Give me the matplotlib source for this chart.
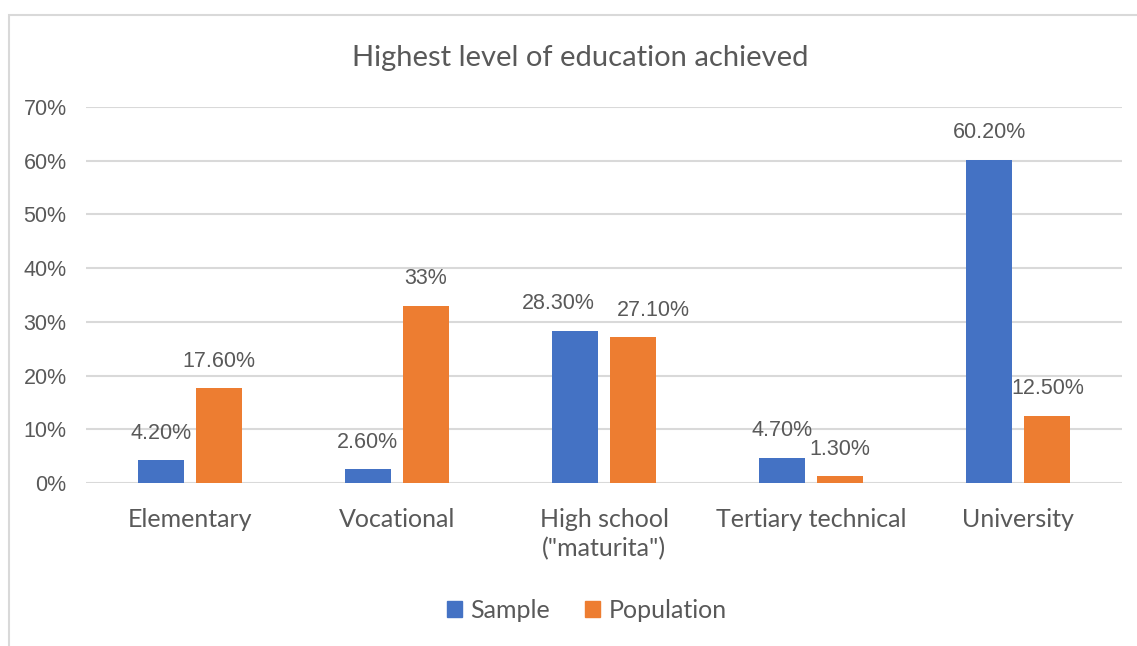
import matplotlib
matplotlib.use("Agg")
import matplotlib.pyplot as plt
import numpy as np
from matplotlib.patches import Rectangle, Patch

categories = ["Elementary", "Vocational", "High school\n(\"maturita\")", "Tertiary technical", "University"]
sample = [4.2, 2.6, 28.3, 4.7, 60.2]
population = [17.6, 33.0, 27.1, 1.3, 12.5]
sample_labels = ["4.20%", "2.60%", "28.30%", "4.70%", "60.20%"]
population_labels = ["17.60%", "33%", "27.10%", "1.30%", "12.50%"]
yticks = [0, 10, 20, 30, 40, 50, 60, 70]
ytick_labels = ["0%", "10%", "20%", "30%", "40%", "50%", "60%", "70%"]

# label nudges (pixels) to avoid overlapping labels, as in the reference
sample_nudge = [0, 0, -17, 0, 0]
population_nudge = [0, 0, 20, 0, 0]

BLUE = "#4472C4"
ORANGE = "#ED7D31"
GREY = "#595959"
GRID = "#D9D9D9"

W, H = 1137, 646
fig = plt.figure(figsize=(W / 100, H / 100), dpi=100)

# chart border (only left & top visible in the crop)
fig.patches.append(Rectangle((8.5 / W, -0.1), 1.2, 1 - 14.5 / H + 0.1, transform=fig.transFigure,
                             fill=False, edgecolor=GRID, linewidth=1.5))

ax = fig.add_axes([86 / W, 1 - 483 / H, (1122 - 86) / W, (483 - 107) / H])
x = np.arange(len(categories))
bw = 0.222
off = 0.14
ax.bar(x - off, sample, bw, color=BLUE, zorder=3)
ax.bar(x + off, population, bw, color=ORANGE, zorder=3)

lab_font = dict(family=["Liberation Sans", "DejaVu Sans"], size=15.5, color=GREY)
for xi, v, t, n in zip(x, sample, sample_labels, sample_nudge):
    ax.annotate(t, (xi - off, v), xytext=(n, 27), textcoords="offset pixels",
                ha="center", va="center", **lab_font)
for xi, v, t, n in zip(x, population, population_labels, population_nudge):
    ax.annotate(t, (xi + off, v), xytext=(n, 27), textcoords="offset pixels",
                ha="center", va="center", **lab_font)

ax.set_xlim(-0.5, len(categories) - 0.5)
ax.set_ylim(0, 70)
ax.set_yticks(yticks)
ax.set_yticklabels(ytick_labels, fontfamily=["Liberation Sans", "DejaVu Sans"], fontsize=15.5, color=GREY)
ax.set_xticks(x)
ax.set_xticklabels(categories, fontfamily=["Lato", "DejaVu Sans"], fontsize=18, color=GREY,
                   linespacing=1.32, va="top")
ax.tick_params(axis="both", length=0)
ax.tick_params(axis="y", pad=14)
ax.tick_params(axis="x", pad=18)
ax.grid(axis="y", color=GRID, linewidth=1.5, zorder=0)
for s in ax.spines.values():
    s.set_visible(False)

fig.text(580 / W, 1 - 58 / H, "Highest level of education achieved", ha="center", va="center",
         fontfamily=["Lato", "DejaVu Sans"], fontsize=21, color=GREY)

handles = [Patch(color=BLUE, label="Sample"), Patch(color=ORANGE, label="Population")]
fig.legend(handles=handles, loc="center", bbox_to_anchor=(587 / W, 1 - 610 / H), ncol=2, frameon=False,
           prop=dict(family=["Lato", "DejaVu Sans"], size=18), labelcolor=GREY,
           handlelength=0.6, handleheight=0.6, handletextpad=0.35, columnspacing=1.4)

fig.savefig("out.png", dpi=100, facecolor="white")
